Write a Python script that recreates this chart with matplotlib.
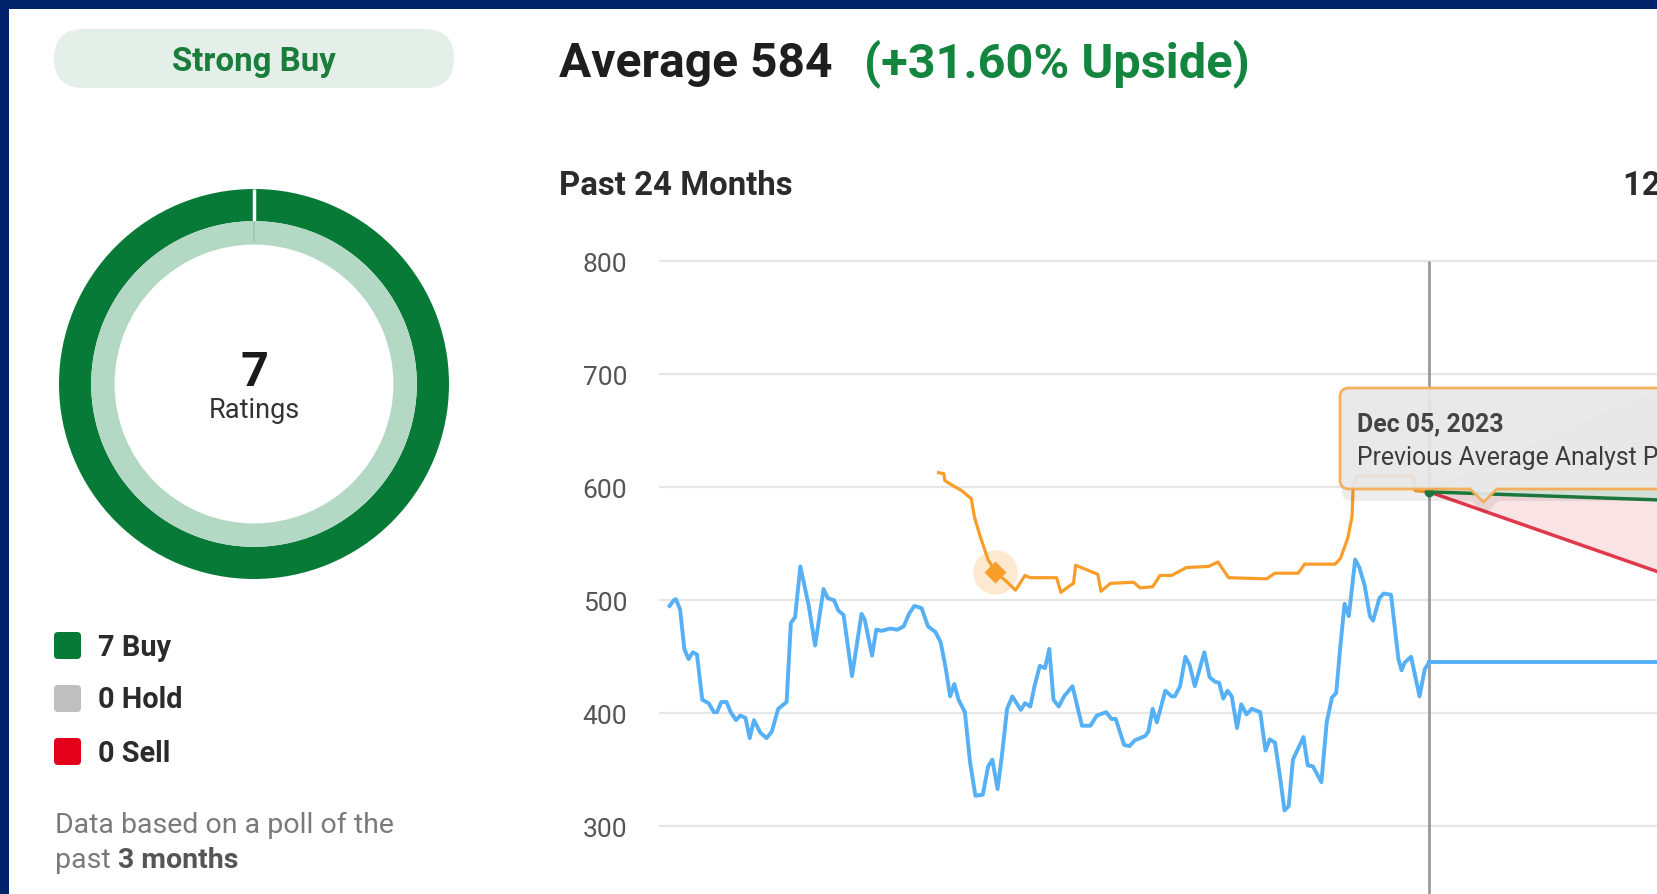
import matplotlib.pyplot as plt
from matplotlib.patches import FancyBboxPatch, PathPatch
from matplotlib.path import Path

plt.rcParams['font.family'] = ['Roboto', 'DejaVu Sans']

W, H = 1658, 895

# ratings
rating_labels = ["Buy", "Hold", "Sell"]
rating_counts = [7, 0, 0]
rating_colors = ["#067a36", "#bfbfbf", "#e3001b"]
consensus = "Strong Buy"
avg_target = 584
upside = 31.60

# price history, days relative to Dec 05, 2023
price_days = [-720, -716, -714, -710, -706, -702, -698, -694, -689, -683, -678, -675,
              -671, -666, -662, -657, -653, -648, -644, -640, -634, -628, -623, -617,
              -609, -605, -601, -596, -588, -582, -574, -570, -564, -560, -555, -547,
              -538, -535, -528, -524, -519, -511, -504, -498, -493, -488, -484, -481,
              -475, -468, -463, -458, -454, -450, -446, -440, -435, -430, -423, -418,
              -414, -409, -405, -400, -395, -387, -383, -378, -374, -369, -364, -360,
              -356, -351, -346, -338, -329, -321, -315, -306, -301, -297, -289, -284,
              -279, -269, -266, -262, -258, -250, -244, -241, -236, -231, -227, -222,
              -213, -208, -203, -199, -195, -191, -187, -182, -178, -173, -168, -160,
              -155, -151, -146, -141, -137, -133, -129, -119, -115, -110, -102, -97,
              -92, -88, -84, -80, -76, -70, -66, -61, -56, -53, -47, -43, -36, -29,
              -26, -23, -17, -9, -4, 0]
price_vals = [495, 500, 501, 492, 457, 448, 454, 452, 412, 409, 401, 401,
              410, 410, 401, 394, 398, 396, 378, 394, 383, 378, 384, 404,
              410, 480, 485, 530, 495, 460, 510, 502, 500, 491, 487, 433,
              488, 483, 451, 474, 473, 475, 474, 477, 488, 495, 494, 493,
              477, 472, 463, 439, 415, 426, 412, 401, 356, 327, 328, 353,
              359, 333, 362, 404, 415, 403, 409, 406, 424, 442, 440, 457,
              412, 406, 415, 424, 389, 389, 398, 401, 395, 395, 372, 371,
              376, 380, 384, 404, 392, 420, 415, 415, 424, 450, 443, 424,
              454, 432, 428, 427, 413, 420, 415, 387, 408, 399, 404, 401,
              367, 377, 374, 342, 314, 318, 359, 379, 354, 353, 339, 392,
              414, 418, 460, 497, 486, 536, 529, 513, 486, 482, 502, 506, 505, 448,
              438, 445, 450, 415, 439, 445]

# average analyst price target history
target_days = [-465, -460, -459, -454, -443, -434, -431, -426, -418, -411, -401, -392,
               -383, -378, -353, -349, -342, -337, -335, -327, -314, -311, -302, -280,
               -274, -262, -255, -244, -230, -209, -200, -198, -190, -154, -146, -124,
               -118, -89, -84, -77, -73, -72, -71, -68, -15, -13, 0]
target_vals = [613, 612, 606, 603, 597, 590, 574, 558, 536, 525, 517, 509,
               522, 520, 520, 507, 512, 515, 531, 528, 523, 508, 515, 516,
               511, 512, 522, 522, 529, 530, 534, 531, 520, 519, 524, 524,
               532, 532, 537, 555, 574, 598, 604, 610, 610, 597, 596]
hover_day = -411
hover_val = 525

# 12 month forecast
fc_days = [0, 365]
fc_high = [596, 746]
fc_avg = [596, 584]
fc_low = [596, 477]

yticks = [300, 400, 500, 600, 700, 800]

fig = plt.figure(figsize=(W / 100, H / 100), dpi=100)

# pixel background axes
bg = fig.add_axes([0, 0, 1, 1], zorder=0)
bg.set_xlim(0, W)
bg.set_ylim(H, 0)
bg.axis("off")

bg.add_patch(FancyBboxPatch((54, 30), 400, 59, boxstyle="round,pad=0,rounding_size=29.5",
                            fc="#e3efe8", ec="none"))
bg.text(254, 62, consensus, ha="center", va="center", fontsize=23.8, fontweight="bold",
        color="#1b7d3c")

for i, (lab, cnt, col) in enumerate(zip(rating_labels, rating_counts, rating_colors)):
    yc = 646.5 + i * 53
    bg.add_patch(FancyBboxPatch((54, yc - 13.5), 27, 27, boxstyle="round,pad=0,rounding_size=4",
                                fc=col, ec="none"))
    bg.text(98, yc + 1, f"{cnt} {lab}", ha="left", va="center", fontsize=20.8,
            fontweight="bold", color="#2b2b2b")

bg.text(55, 825, "Data based on a poll of the", ha="left", va="center", fontsize=20.5,
        color="#7a7a7a")
t1 = bg.text(55, 868, "past ", ha="left", va="baseline", fontsize=20.5, color="#7a7a7a")
bg.annotate("3 months", xy=(1, 868), xycoords=(t1, "data"), ha="left", va="baseline",
            fontsize=20.5, fontweight="bold", color="#555555")

t2 = bg.text(559, 64, f"Average {avg_target}", ha="left", va="center", fontsize=34.5,
             fontweight="bold", color="#1e1e1e")
bg.annotate(f"(+{upside:.2f}% Upside)", xy=(1, 64), xycoords=(t2, "data"),
            xytext=(32, 0), textcoords="offset pixels", ha="left", va="center",
            fontsize=35, fontweight="bold", color="#13853f")

bg.text(559, 186, "Past 24 Months", ha="left", va="center", fontsize=23.7,
        fontweight="bold", color="#2b2b2b")
bg.text(1623, 186, "12-Month Forecast", ha="left", va="center", fontsize=23.7,
        fontweight="bold", color="#2b2b2b")

# donut
pax = fig.add_axes([(254 - 195) / W, 1 - (385 + 195) / H, 390 / W, 390 / H], zorder=1)
nz = [(c, col) for c, col in zip(rating_counts, rating_colors) if c > 0]
pax.pie([c for c, _ in nz], colors=[col for _, col in nz], startangle=90, counterclock=False,
        radius=1.0, wedgeprops=dict(width=0.165, edgecolor="none"))
pax.pie([1], colors=["#b3d9c4"], radius=0.835, wedgeprops=dict(width=0.12, edgecolor="none"))
pax.plot([0, 0], [0.835, 1.0], color="white", lw=2.5, solid_capstyle="butt")
pax.plot([0, 0], [0.73, 0.835], color="#9fc9b1", lw=1.5, solid_capstyle="butt")
pax.set_xlim(-1, 1)
pax.set_ylim(-1, 1)
pax.set_aspect("auto")
pax.axis("off")
bg.text(254, 373, str(sum(rating_counts)), ha="center", va="center", fontsize=35,
        fontweight="bold", color="#1a1a1a", zorder=3)
bg.text(254, 411, "Ratings", ha="center", va="center", fontsize=19.5, color="#333333",
        zorder=3)

# price chart
ax = fig.add_axes([659 / W, 0, (W - 659) / W, 645 / H], zorder=2)
ax.set_facecolor("none")
ax.set_xlim(-730, 217.1)
ax.set_ylim(240.1, 810.9)
for s in ax.spines.values():
    s.set_visible(False)
ax.set_xticks([])
ax.set_yticks(yticks)
ax.tick_params(axis="y", length=0, pad=23, labelsize=19, labelcolor="#555555")
ax.grid(axis="y", color="#e6e6e6", lw=1.6)
ax.set_axisbelow(True)

ax.fill_between(fc_days, fc_avg, fc_low, color="#fae3e5", lw=0, zorder=1)
ax.fill_between(fc_days, fc_high, fc_avg, color="#e2f1e7", lw=0, zorder=1)
ax.vlines(0, 240.1, 800, color="#9a9a9a", lw=2, zorder=2)
ax.plot(fc_days, fc_high, color="#cfe6d6", lw=1.5, zorder=3)
ax.plot(fc_days, fc_low, color="#e0394b", lw=2.5, zorder=3)
ax.plot(fc_days, fc_avg, color="#1d8040", lw=2.5, zorder=3)
ax.plot(price_days, price_vals, color="#55b0f6", lw=2.8, zorder=4, solid_joinstyle="round")
ax.plot([0, 365], [price_vals[-1], price_vals[-1]], color="#55b0f6", lw=2.8, zorder=4)
ax.plot(target_days, target_vals, color="#f99d2a", lw=2.3, zorder=4, solid_joinstyle="round")
ax.plot(hover_day, hover_val, "o", ms=32, color="#f99d2a", alpha=0.22, mec="none", zorder=5)
ax.plot(hover_day, hover_val, "D", ms=11, color="#f99d2a", mec="none", zorder=6)
ax.plot(0, fc_avg[0], "o", ms=7, color="#1d8040", mec="none", zorder=6)

# overlay: tooltip and frame
ov = fig.add_axes([0, 0, 1, 1], zorder=5)
ov.set_xlim(0, W)
ov.set_ylim(H, 0)
ov.axis("off")


def tip_path(x0, y0, x1, y1, px, r=9, pw=13.5, ph=13):
    verts = [(x0 + r, y0), (x1, y0), (x1, y1), (px + pw, y1), (px, y1 + ph), (px - pw, y1),
             (x0 + r, y1), (x0, y1), (x0, y1 - r), (x0, y0 + r), (x0, y0), (x0 + r, y0),
             (x0 + r, y0)]
    codes = [Path.MOVETO, Path.LINETO, Path.LINETO, Path.LINETO, Path.LINETO, Path.LINETO,
             Path.LINETO, Path.CURVE3, Path.CURVE3, Path.LINETO, Path.CURVE3, Path.CURVE3,
             Path.CLOSEPOLY]
    return Path(verts, codes)


ov.add_patch(PathPatch(tip_path(1342, 395, 1720, 502, 1485), fc="#000000", ec="none",
                       alpha=0.07))
ov.add_patch(PathPatch(tip_path(1340, 389, 1720, 490, 1483.5), fc="#e9e9e9", ec="#f6ab52",
                       lw=2, alpha=0.92))
ov.text(1357, 424, "Dec 05, 2023", ha="left", va="center", fontsize=17.9, fontweight="bold",
        color="#444444")
ov.text(1357, 458, "Previous Average Analyst Price Target", ha="left", va="center",
        fontsize=17.8, color="#3c3c3c")

ov.add_patch(plt.Rectangle((0, 0), W, 10, fc="#01236c", ec="none"))
ov.add_patch(plt.Rectangle((0, 0), 9, H, fc="#01236c", ec="none"))

fig.savefig("out.png", dpi=100, facecolor="white")
